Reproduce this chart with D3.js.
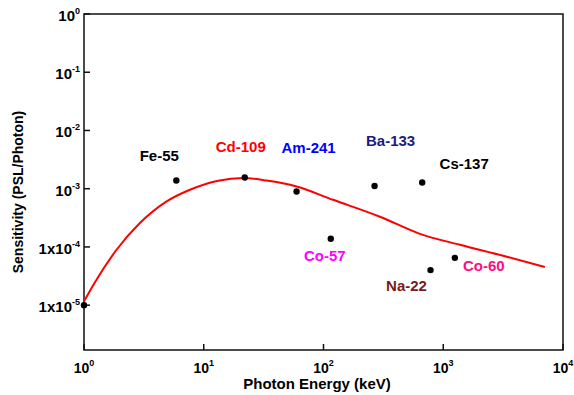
<!DOCTYPE html>
<meta charset="utf-8">
<html>
  <head>
    <style>
      body { margin: 0; background: #fff; }
      text { font-family: Arial, "Liberation Sans", sans-serif; font-weight: bold; }
      .tick-x { font-size: 14px; fill: #000; }
      .tick-y { font-size: 15px; fill: #000; }
      .axis-title { font-size: 15px; fill: #000; }
      .src-label { font-size: 15px; }
    </style>
    <script src="https://d3js.org/d3.v7.min.js"></script>
  </head>
  <body>
    <div id="chart"></div>
    <script type="text/javascript">
      // sources measured (keV, PSL/photon)
      var sourceNames = ["Fe-55", "Cd-109", "Am-241", "Co-57", "Ba-133", "Cs-137", "Na-22", "Co-60"],
          sourceEnergy = [5.9, 22, 59.6, 115, 267, 667, 783, 1250],
          sourceSens = [1.38e-3, 1.56e-3, 8.95e-4, 1.38e-4, 1.11e-3, 1.28e-3, 4.0e-5, 6.5e-5],
          sourceColors = ["#000000", "#ff0000", "#0000ff", "#ff00ff", "#1c1c80", "#000000", "#7a1a1a", "#ff0a82"],
          // where each label sits relative to its dot (px)
          labelDx = [-17, -4, 12, -6, 16, 42, -24, 29],
          labelDy = [-20, -25, -39, 22, -40, -13, 21, 13];

      // the extra point sitting on the left axis
      var edgeEnergy = [1], edgeSens = [1.0e-5];

      // model curve
      var curveEnergy = [1, 1.2, 1.87, 2.93, 4.9, 7.67, 13.2, 21.4, 33.5, 59.6, 120, 296, 638, 1376, 3163, 7050],
          curveSens = [1.16e-5, 2.25e-5, 8.95e-5, 2.57e-4, 6.04e-4, 9.58e-4, 1.37e-3, 1.52e-3, 1.38e-3, 1.09e-3, 6.45e-4, 3.3e-4, 1.68e-4, 1.09e-4, 7.06e-5, 4.52e-5];

      var xTicks = [1, 10, 100, 1000, 10000],
          yTicks = [1, 1e-1, 1e-2, 1e-3, 1e-4, 1e-5],
          yTickPre = ["10", "10", "10", "10", "1x10", "1x10"],
          yTickExp = ["0", "-1", "-2", "-3", "-4", "-5"],
          xTickExp = ["0", "1", "2", "3", "4"];

      var W = 574, H = 395,
          margin = { top: 14, right: 11, bottom: 45, left: 84 },
          width = W - margin.left - margin.right,
          height = H - margin.top - margin.bottom;

      var svg = d3.select("#chart").append("svg")
          .attr("width", W)
          .attr("height", H)
          .append("g")
          .attr("transform", "translate(" + margin.left + "," + margin.top + ")");

      var x = d3.scaleLog().domain([1, 10000]).range([0, width]);
      var y = d3.scaleLog().domain([1.7e-6, 1]).range([height, 0]);

      // frame
      svg.append("rect")
          .attr("x", 0).attr("y", 0)
          .attr("width", width).attr("height", height)
          .attr("fill", "none")
          .attr("stroke", "#111")
          .attr("stroke-width", 1.5);

      // ticks point inward
      svg.selectAll(".xtick")
          .data(xTicks)
          .enter().append("line")
            .attr("x1", function(d) { return x(d); })
            .attr("x2", function(d) { return x(d); })
            .attr("y1", height)
            .attr("y2", height - 6)
            .attr("stroke", "#111")
            .attr("stroke-width", 1.5);

      svg.selectAll(".ytick")
          .data(yTicks)
          .enter().append("line")
            .attr("x1", 0)
            .attr("x2", 6)
            .attr("y1", function(d) { return y(d); })
            .attr("y2", function(d) { return y(d); })
            .attr("stroke", "#111")
            .attr("stroke-width", 1.5);

      var xl = svg.selectAll(".xlab")
          .data(xTicks)
          .enter().append("text")
            .attr("class", "tick-x")
            .attr("x", function(d) { return x(d); })
            .attr("y", height + 23)
            .attr("text-anchor", "middle");
      xl.append("tspan").text("10");
      xl.append("tspan").attr("dy", -7).style("font-size", "9px")
          .text(function(d, i) { return xTickExp[i]; });

      var yl = svg.selectAll(".ylab")
          .data(yTicks)
          .enter().append("text")
            .attr("class", "tick-y")
            .attr("x", -4)
            .attr("y", function(d) { return y(d) + 7; })
            .attr("text-anchor", "end");
      yl.append("tspan").text(function(d, i) { return yTickPre[i]; });
      yl.append("tspan").attr("dy", -7).style("font-size", "9px")
          .text(function(d, i) { return yTickExp[i]; });

      // axis titles
      svg.append("text")
          .attr("class", "axis-title")
          .attr("x", 233)
          .attr("y", height + 39)
          .attr("text-anchor", "middle")
          .text("Photon Energy (keV)");

      svg.append("text")
          .attr("class", "axis-title")
          .style("font-size", "14px")
          .attr("transform", "translate(-61," + (height / 2 + 10) + ") rotate(-90)")
          .attr("text-anchor", "middle")
          .text("Sensitivity (PSL/Photon)");

      // curve
      var line = d3.line()
          .x(function(d) { return x(d[0]); })
          .y(function(d) { return y(d[1]); })
          .curve(d3.curveMonotoneX);

      svg.append("path")
          .datum(d3.zip(curveEnergy, curveSens))
          .attr("fill", "none")
          .attr("stroke", "#ff0000")
          .attr("stroke-width", 2)
          .attr("d", line);

      // dots
      svg.selectAll(".dot")
          .data(d3.zip(sourceEnergy.concat(edgeEnergy), sourceSens.concat(edgeSens)))
          .enter().append("circle")
            .attr("cx", function(d) { return x(d[0]); })
            .attr("cy", function(d) { return y(d[1]); })
            .attr("r", 3.2)
            .attr("fill", "#000");

      svg.selectAll(".src-label")
          .data(sourceNames)
          .enter().append("text")
            .attr("class", "src-label")
            .attr("x", function(d, i) { return x(sourceEnergy[i]) + labelDx[i]; })
            .attr("y", function(d, i) { return y(sourceSens[i]) + labelDy[i]; })
            .attr("text-anchor", "middle")
            .attr("fill", function(d, i) { return sourceColors[i]; })
            .text(function(d) { return d; });
    </script>
  </body>
</html>
